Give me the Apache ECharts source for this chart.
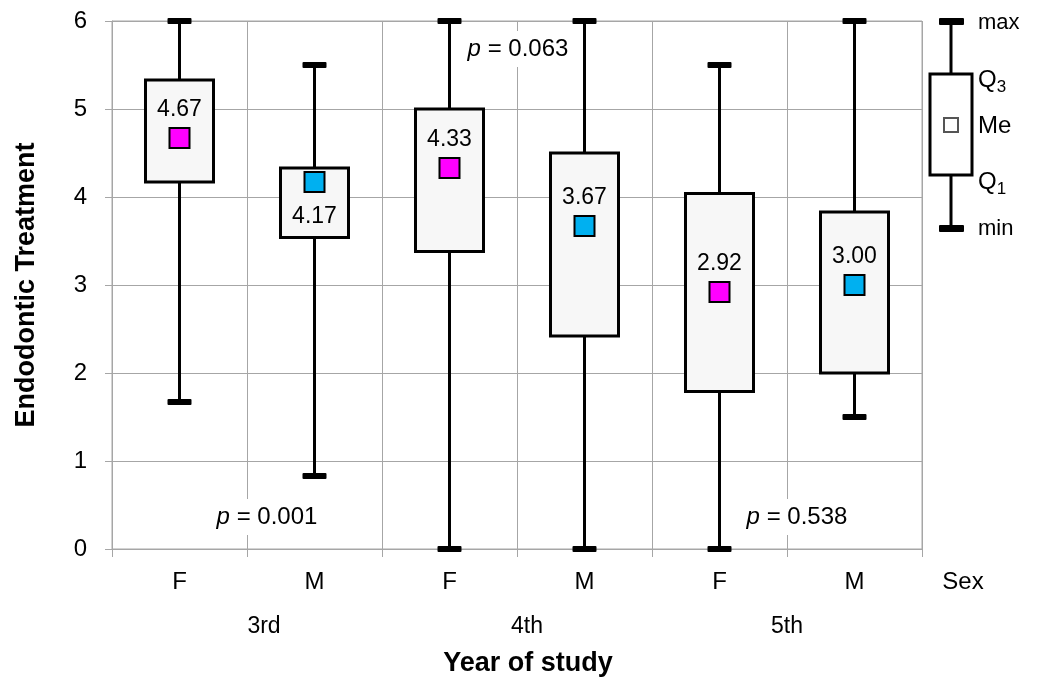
<!DOCTYPE html>
<html><head><meta charset="utf-8">
<script src="https://cdn.jsdelivr.net/npm/echarts@6/dist/echarts.min.js"></script>
<style>html,body{margin:0;padding:0;background:#fff}#c{width:1038px;height:681px}</style>
</head><body><div id="c"></div>
<script>
const categories = ['F', 'M', 'F', 'M', 'F', 'M'];
const sexes = ['F', 'M', 'F', 'M', 'F', 'M'];
const years = ['3rd', '4th', '5th'];
const minVals = [1.67, 0.83, 0, 0, 0, 1.5];
const q1Vals = [4.17, 3.54, 3.38, 2.42, 1.79, 2.0];
const medianVals = [4.67, 4.17, 4.33, 3.67, 2.92, 3.00];
const q3Vals = [5.33, 4.33, 5.0, 4.5, 4.04, 3.83];
const maxVals = [6, 5.5, 6, 6, 5.5, 6];
const yTicks = [0, 1, 2, 3, 4, 5, 6];
const pValues = ['0.001', '0.063', '0.538'];

const FONT = 'Liberation Sans, Arial, sans-serif';
const chart = echarts.init(document.getElementById('c'), null, {renderer: 'canvas'});

const boxData = categories.map((c, i) => [i, minVals[i], q1Vals[i], q3Vals[i], maxVals[i]]);
const medData = categories.map((c, i) => ({
  value: [i, medianVals[i]],
  itemStyle: {color: sexes[i] === 'F' ? '#ff00ff' : '#00b0f0'},
  label: {position: i === 1 ? 'bottom' : 'top', distance: i === 1 ? 12 : 6}
}));

function renderBox(params, api) {
  const x = api.value(0);
  const pMin = api.coord([x, api.value(1)]);
  const pQ1 = api.coord([x, api.value(2)]);
  const pQ3 = api.coord([x, api.value(3)]);
  const pMax = api.coord([x, api.value(4)]);
  const bw = 68, cw = 24, ch = 6;
  return {
    type: 'group',
    children: [
      {type: 'line', shape: {x1: pMin[0], y1: pMin[1], x2: pMax[0], y2: pMax[1]},
       style: {stroke: '#000', lineWidth: 3}},
      {type: 'rect', shape: {x: pMin[0] - cw / 2, y: pMin[1] - ch / 2, width: cw, height: ch, r: 1},
       style: {fill: '#000'}},
      {type: 'rect', shape: {x: pMax[0] - cw / 2, y: pMax[1] - ch / 2, width: cw, height: ch, r: 1},
       style: {fill: '#000'}},
      {type: 'rect', shape: {x: pQ3[0] - bw / 2, y: pQ3[1], width: bw, height: pQ1[1] - pQ3[1]},
       style: {fill: '#f7f7f7', stroke: '#000', lineWidth: 3}}
    ]
  };
}

const pRich = {
  i: {fontStyle: 'italic', fontSize: 24, fontFamily: FONT, fill: '#000'},
  n: {fontSize: 24, fontFamily: FONT, fill: '#000'}
};
function pText(x, y, v) {
  return {type: 'text', x: x, y: y, z: 10, style: {text: '{i|p}{n| = ' + v + '}', rich: pRich,
    align: 'center', verticalAlign: 'middle', backgroundColor: '#fff', padding: [6, 6]}};
}
const lx = 951;
const qRich = {a: {fontSize: 24, fontFamily: FONT, fill: '#000'}, b: {fontSize: 17, fontFamily: FONT, fill: '#000', padding: [14, 0, 0, 0]}};
const legend = [
  {type: 'line', shape: {x1: lx, y1: 21, x2: lx, y2: 228}, style: {stroke: '#000', lineWidth: 3}},
  {type: 'rect', shape: {x: lx - 12, y: 18, width: 25, height: 7, r: 1}, style: {fill: '#000'}},
  {type: 'rect', shape: {x: lx - 12, y: 225, width: 25, height: 7, r: 1}, style: {fill: '#000'}},
  {type: 'rect', shape: {x: lx - 21, y: 74, width: 42, height: 101}, style: {fill: '#fff', stroke: '#000', lineWidth: 3}},
  {type: 'rect', shape: {x: lx - 7, y: 118, width: 14, height: 14}, style: {fill: '#fff', stroke: '#555', lineWidth: 2}},
  {type: 'text', x: 978, y: 23, style: {text: 'max', fontSize: 22, fontFamily: FONT, fill: '#000', verticalAlign: 'middle'}},
  {type: 'text', x: 978, y: 80, style: {text: '{a|Q}{b|3}', rich: qRich, verticalAlign: 'middle'}},
  {type: 'text', x: 978, y: 126, style: {text: 'Me', fontSize: 24, fontFamily: FONT, fill: '#000', verticalAlign: 'middle'}},
  {type: 'text', x: 978, y: 182, style: {text: '{a|Q}{b|1}', rich: qRich, verticalAlign: 'middle'}},
  {type: 'text', x: 978, y: 229, style: {text: 'min', fontSize: 22, fontFamily: FONT, fill: '#000', verticalAlign: 'middle'}}
];
const yearX = [264, 527, 787];
const yearTexts = years.map((y, i) => ({type: 'text', x: yearX[i], y: 627,
  style: {text: y, fontSize: 23, fontFamily: FONT, fill: '#000', align: 'center', verticalAlign: 'middle'}}));

chart.setOption({
  animation: false,
  backgroundColor: '#fff',
  grid: {left: 112, right: 116, top: 21, bottom: 132, show: true, borderColor: '#a6a6a6', borderWidth: 1},
  xAxis: {
    type: 'category', data: categories, boundaryGap: true,
    axisLine: {lineStyle: {color: '#a6a6a6', width: 1}},
    axisTick: {show: true, length: 8, lineStyle: {color: '#a6a6a6'}},
    splitLine: {show: true, interval: 0, lineStyle: {color: '#a6a6a6', width: 1}},
    axisLabel: {color: '#000', fontSize: 24, fontFamily: FONT, margin: 21, interval: 0}
  },
  yAxis: {
    type: 'value', min: 0, max: 6, interval: 1,
    axisLine: {show: true, lineStyle: {color: '#a6a6a6'}},
    axisTick: {show: true, length: 7, lineStyle: {color: '#a6a6a6'}},
    splitLine: {show: true, lineStyle: {color: '#a6a6a6', width: 1}},
    axisLabel: {color: '#000', fontSize: 24, fontFamily: FONT, margin: 25,
      formatter: v => yTicks.includes(v) ? String(v) : ''},
    name: 'Endodontic Treatment', nameLocation: 'middle', nameGap: 72,
    nameTextStyle: {color: '#000', fontSize: 27, fontWeight: 'bold', fontFamily: FONT}
  },
  graphic: [
    ...legend, ...yearTexts,
    pText(267, 517, pValues[0]), pText(518, 49, pValues[1]), pText(797, 517, pValues[2]),
    {type: 'text', x: 963, y: 582, style: {text: 'Sex', fontSize: 24, fontFamily: FONT, fill: '#000', align: 'center', verticalAlign: 'middle'}},
    {type: 'text', x: 528, y: 664, style: {text: 'Year of study', fontSize: 27, fontWeight: 'bold', fontFamily: FONT, fill: '#000', align: 'center', verticalAlign: 'middle'}}
  ],
  series: [
    {type: 'custom', renderItem: renderBox, data: boxData, encode: {x: 0, y: [1, 2, 3, 4]}, z: 2},
    {type: 'scatter', data: medData, symbol: 'rect', symbolSize: 20, z: 3,
      itemStyle: {borderColor: '#000', borderWidth: 2, opacity: 1},
      label: {show: true, color: '#000', fontSize: 23, fontFamily: FONT,
        formatter: p => p.value[1].toFixed(2)}}
  ]
});
</script></body></html>
